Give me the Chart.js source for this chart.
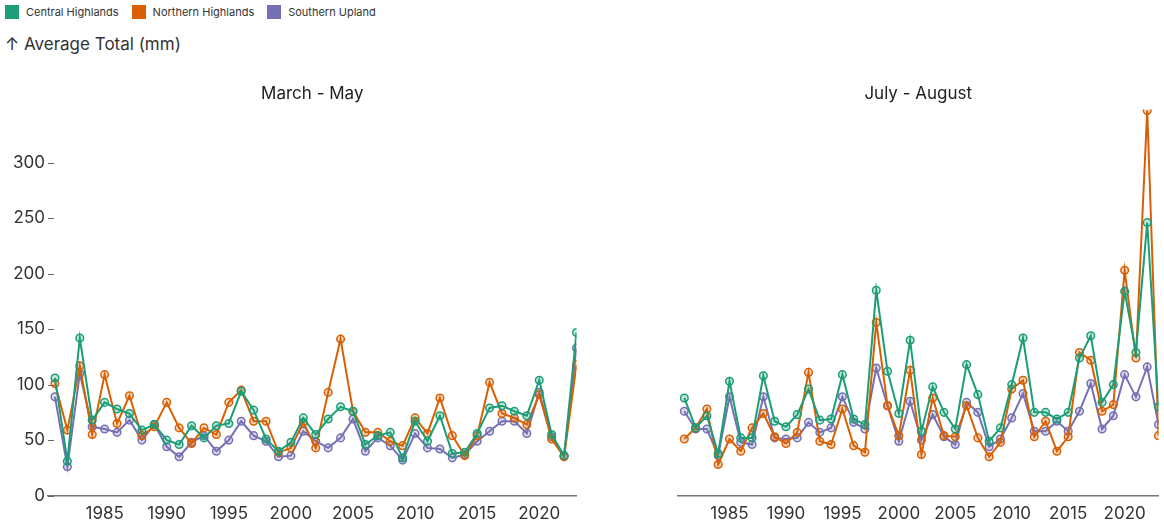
<!DOCTYPE html>
<html>
<head>
<title>Average Total (mm)</title>
<script src="https://cdn.jsdelivr.net/npm/chart.js"></script>
<style>
  body { margin: 0; width: 1164px; height: 524px; position: relative; overflow: hidden; background: #fff;
         font-family: Inter, "Liberation Sans", sans-serif; color: #333; }
  #legend { position: absolute; left: 5px; top: 5px; display: flex; font-size: 11px; line-height: 14px; }
  .item { display: flex; align-items: center; margin-right: 13px; }
  .box { width: 14px; height: 14px; margin-right: 7px; }
  #ylabel { position: absolute; left: 5px; top: 34px; font-size: 17px; line-height: 20px; }
  canvas { position: absolute; top: 0; }
</style>
</head>
<body>
<div id="legend"></div>
<div id="ylabel">↑ Average Total (mm)</div>
<canvas id="mam" width="582" height="524" style="left:0"></canvas>
<canvas id="ja" width="582" height="524" style="left:582px"></canvas>

<script>
// years and regional averages (mm)
const years = [1981, 1982, 1983, 1984, 1985, 1986, 1987, 1988, 1989, 1990,
  1991, 1992, 1993, 1994, 1995, 1996, 1997, 1998, 1999, 2000,
  2001, 2002, 2003, 2004, 2005, 2006, 2007, 2008, 2009, 2010,
  2011, 2012, 2013, 2014, 2015, 2016, 2017, 2018, 2019, 2020,
  2021, 2022, 2023];

const xTicks = [1985, 1990, 1995, 2000, 2005, 2010, 2015, 2020];
const yTicks = [0, 50, 100, 150, 200, 250, 300];

const series = ['Central Highlands', 'Northern Highlands', 'Southern Upland'];
const colors = ['#1b9e77', '#d95f02', '#7570b3'];
const fills = ['rgba(27,158,119,0.25)', 'rgba(217,95,2,0.25)', 'rgba(117,112,179,0.25)'];

// March - May
const centralMAM = [106, 31, 142, 68, 84, 78, 74, 59, 64, 50, 46, 63, 52, 63, 65, 94, 77, 51, 40, 48,
  70, 55, 69, 80, 76, 46, 54, 57, 34, 67, 49, 72, 38, 39, 56, 79, 81, 76, 72, 104, 55, 36, 147];
const northernMAM = [101, 59, 117, 55, 109, 65, 90, 54, 62, 84, 61, 47, 61, 55, 84, 95, 67, 67, 39, 43,
  66, 43, 93, 141, 76, 57, 57, 49, 45, 70, 56, 88, 54, 36, 54, 102, 74, 70, 64, 91, 51, 35, 118];
const southernMAM = [89, 26, 110, 62, 60, 57, 68, 50, 64, 44, 35, 48, 54, 40, 50, 67, 54, 49, 35, 36,
  58, 49, 43, 52, 69, 40, 52, 45, 32, 56, 43, 42, 34, 37, 49, 58, 67, 67, 56, 93, 53, 36, 133];

// July - August
const centralJA = [88, 61, 72, 38, 103, 52, 52, 108, 67, 62, 73, 96, 68, 69, 109, 69, 64, 185, 112, 74,
  140, 58, 98, 75, 60, 118, 91, 49, 61, 100, 142, 75, 75, 69, 75, 124, 144, 84, 100, 184, 129, 246, 80];
const northernJA = [51, 61, 78, 28, 51, 40, 61, 74, 53, 47, 57, 111, 49, 46, 78, 45, 39, 156, 81, 54,
  113, 37, 88, 54, 53, 81, 52, 35, 48, 96, 104, 53, 67, 40, 53, 129, 122, 76, 82, 203, 124, 347, 54];
const southernJA = [76, 60, 60, 36, 89, 48, 46, 89, 52, 51, 52, 66, 57, 61, 89, 66, 60, 115, 81, 49,
  85, 50, 73, 53, 46, 84, 75, 44, 51, 70, 92, 58, 58, 67, 58, 76, 101, 60, 72, 109, 89, 116, 64];

const yMax = 348;

Chart.defaults.font.family = 'Inter, "Liberation Sans", sans-serif';
Chart.defaults.color = '#333';

function makeDatasets(arrs) {
  return arrs.map((arr, i) => ({
    label: series[i],
    data: years.map((yr, j) => ({ x: yr, y: arr[j] })),
    borderColor: colors[i],
    backgroundColor: colors[i],
    pointBackgroundColor: fills[i],
    pointBorderColor: colors[i],
    pointRadius: 3.8,
    pointBorderWidth: 1.5,
    borderWidth: 2,
    tension: 0
  }));
}

// little tick marks pointing into the plot, like the reference
const inwardTicks = {
  id: 'inwardTicks',
  beforeDatasetsDraw(chart) {
    const y = chart.scales.y;
    const ctx = chart.ctx;
    ctx.save();
    ctx.strokeStyle = '#666';
    ctx.lineWidth = 1;
    y.ticks.forEach((t, i) => {
      const py = Math.round(y.getPixelForTick(i)) + 0.5;
      ctx.beginPath();
      ctx.moveTo(chart.chartArea.left, py);
      ctx.lineTo(chart.chartArea.left + 6, py);
      ctx.stroke();
    });
    ctx.restore();
  }
};

function makeChart(id, title, arrs, showY) {
  return new Chart(document.getElementById(id), {
    type: 'line',
    data: { datasets: makeDatasets(arrs) },
    plugins: showY ? [inwardTicks] : [],
    options: {
      responsive: false,
      animation: false,
      layout: { padding: { top: 70, bottom: -8, left: showY ? 0 : 48, right: 4 } },
      plugins: {
        legend: { display: false },
        tooltip: { enabled: false },
        title: {
          display: true,
          text: title,
          fullSize: false,
          font: { size: 17, weight: 'normal' },
          color: '#222',
          padding: { top: 14, bottom: 5 }
        }
      },
      scales: {
        x: {
          type: 'linear',
          min: 1980.44,
          max: 2023,
          grid: { display: false, drawTicks: false },
          border: { display: true, color: '#777', width: 1.5 },
          afterBuildTicks: axis => { axis.ticks = xTicks.map(v => ({ value: v })); },
          ticks: { padding: 8, maxRotation: 0, autoSkip: false, font: { size: 17 }, callback: v => String(v) }
        },
        y: {
          display: showY,
          min: 0,
          max: yMax,
          grid: { display: false, drawTicks: false },
          border: { display: false },
          afterBuildTicks: axis => { axis.ticks = yTicks.map(v => ({ value: v })); },
          ticks: { padding: 3, autoSkip: false, font: { size: 17 }, callback: v => String(v) },
          afterFit: s => { s.width = 48; }
        }
      }
    }
  });
}

const mam = makeChart('mam', 'March - May', [centralMAM, northernMAM, southernMAM], true);
makeChart('ja', 'July - August', [centralJA, northernJA, southernJA], false);

// html legend from the chart's datasets
const legend = document.getElementById('legend');
mam.data.datasets.forEach(ds => {
  const item = document.createElement('div');
  item.className = 'item';
  const box = document.createElement('span');
  box.className = 'box';
  box.style.background = ds.borderColor;
  item.appendChild(box);
  item.appendChild(document.createTextNode(ds.label));
  legend.appendChild(item);
});
</script>
</body>
</html>
